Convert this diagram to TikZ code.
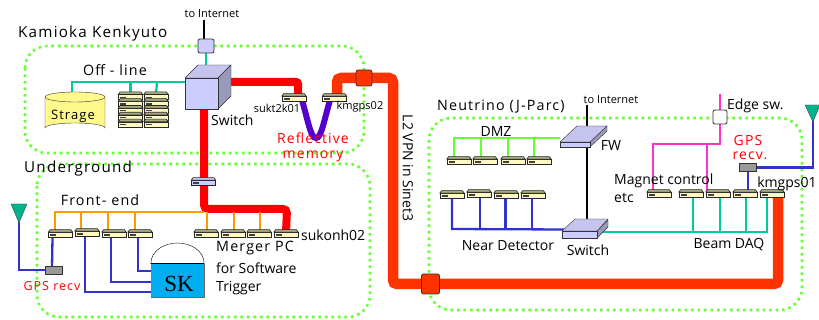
\documentclass[tikz,border=0pt]{standalone}
\usepackage{fontspec}
\setmainfont{Open Sans}
\newfontfamily\spaced[LetterSpace=8]{Open Sans}
\usetikzlibrary{backgrounds}

\definecolor{dotgreen}{HTML}{66FF33}
\definecolor{teal}{HTML}{00CC99}
\definecolor{antenna}{HTML}{00B38C}
\definecolor{lineblue}{HTML}{3333CC}
\definecolor{lineorange}{HTML}{FF9900}
\definecolor{linepink}{HTML}{FF33CC}
\definecolor{vpn}{HTML}{FF3300}
\definecolor{refmem}{HTML}{5500CC}
\definecolor{lav}{HTML}{CCCCFF}
\definecolor{lavtop}{HTML}{C4C4EE}
\definecolor{lavside}{HTML}{9999BB}
\definecolor{pcface}{HTML}{FFF8C0}
\definecolor{pctop}{HTML}{A8A880}

% One flat box: name, position, face colour, top colour
\newcommand{\flatbox}[4]{
  \node [draw=black!85,line width=0.6pt,fill=#3,minimum width=24pt,minimum height=5pt,inner sep=0pt] (#1) at (#2) {};
  \draw [draw=black!85,line width=0.6pt,fill=#4] (#1.north west) -- ([shift={(2pt,2.6pt)}]#1.north west) -- ([shift={(-2pt,2.6pt)}]#1.north east) -- (#1.north east) -- cycle;
  \draw [line width=1.2pt,black!75] ([xshift=2pt]#1.west) -- ([xshift=8pt]#1.west);
}
\newcommand{\pc}[2]{\flatbox{#1}{#2}{pcface}{pctop}}

\begin{document}
\begin{tikzpicture}[x=1pt,y=-1pt]

\tikzstyle{area}=[draw=dotgreen,line width=2.6pt,dash pattern=on 2.6pt off 3.9pt,rounded corners=22pt]
\tikzstyle{thin}=[line width=2.3pt,line join=miter]
\tikzstyle{gps}=[draw=black!80,line width=0.6pt,fill=black!40,minimum width=17pt,minimum height=8pt,inner sep=0pt]
\tikzstyle{corner}=[draw=black!80,line width=0.8pt,rounded corners=2pt,inner sep=0pt]
\tikzstyle{tag}=[inner sep=0pt,font=\fontsize{14}{14}\selectfont]
\tikzstyle{small}=[inner sep=0pt,font=\fontsize{11}{11}\selectfont]
\tikzstyle{title}=[inner sep=0pt,font=\spaced\fontsize{14.3}{14.3}\selectfont]
\tikzstyle{bigtitle}=[inner sep=0pt,font=\spaced\fontsize{15.2}{15.2}\selectfont]
\tikzstyle{redtag}=[inner sep=0pt,text=red,font=\spaced\fontsize{14}{14}\selectfont]

\useasboundingbox (0,0) rectangle (819,320);

% Kamioka side
\node [corner,fill=lav,minimum width=16pt,minimum height=14pt] (edgek) at (206,46) {};
\coordinate (netk) at (204,20);
\draw [fill=lavtop,draw=black!80] (185,78) -- (198,65) -- (231,65) -- (218,78) -- cycle;
\draw [fill=lavside,draw=black!80] (218,78) -- (231,65) -- (231,96) -- (218,109) -- cycle;
\node [draw=black!80,fill=lav,minimum width=33pt,minimum height=31pt,inner sep=0pt] (swk) at (201.5,93.5) {};

% Storage cylinder
\draw [draw=black!80,fill=yellow!45] (45,97) -- (45,128) arc (180:360:30 and 5) -- (105,97);
\draw [draw=black!80,fill=yellow!45] (75,97) ellipse (30 and 5);
\node [inner sep=0pt,font=\spaced\fontsize{13}{13}\selectfont] (strage) at (73,116) {Strage};

% Offline server stacks
\foreach \i in {1,...,5} {
  \pc{rka\i}{130.5,{90.5+6.8*\i}}
  \pc{rkb\i}{156,{90.5+6.8*\i}}
}

% Underground boxes
\flatbox{swu}{203.5,183}{lav}{lavtop}
\foreach \i/\x/\y in {1/60.5/235,2/87/234,3/114/235,4/140/235} {\pc{fe\i}{\x,\y}}
\foreach \i/\x in {1/206,2/233,3/259,4/286} {\pc{mg\i}{\x,235}}
\node [gps] (gpsu) at (53.5,270) {};
\node [fill=cyan,minimum width=53pt,minimum height=33pt,inner sep=0pt] (sk) at (177.5,280.5) {};
\node [inner sep=0pt,font=\fontspec{Liberation Serif}\fontsize{23}{23}\selectfont] (sklabel) at (179,284) {SK};
\draw [line width=1.3pt] (sk.north west) -- (sk.north east);
\draw (sk.north west) .. controls (151,250) and (165,243) .. (177.5,243) .. controls (190,243) and (204,250) .. (sk.north east);
\draw [black!60] (sk.north east) -- (sk.south east) -- (sk.south west);
\coordinate (antu) at (19,221);
\draw [fill=antenna,draw=black!70] (11,204) -- (27,204) -- (19,223) -- cycle;

% Reflective memory hosts
\pc{sukt}{294,99}
\pc{kmb}{334.5,99}

% Junctions on the VPN
\node [corner,fill=vpn,minimum width=16pt,minimum height=16pt] (juna) at (364,78) {};
\node [corner,fill=vpn,minimum width=18pt,minimum height=20pt] (junb) at (430.5,284) {};

% Neutrino side
\draw [fill=lavside,draw=black!80] (590,142) -- (607,126) -- (607,131) -- (590,147) -- cycle;
\draw [fill=lavtop,draw=black!80] (560,142) -- (577,126) -- (607,126) -- (590,142) -- cycle;
\node [draw=black!80,fill=lav,minimum width=30pt,minimum height=5.5pt,inner sep=0pt] (fw) at (575,144.5) {};
\draw [fill=lavside,draw=black!80] (597,231) -- (608,220) -- (608,227) -- (597,238) -- cycle;
\draw [fill=lavtop,draw=black!80] (562,231) -- (575,219) -- (608,219) -- (597,231) -- cycle;
\node [draw=black!80,fill=lav,minimum width=35pt,minimum height=7pt,inner sep=0pt] (swn) at (579.5,234.5) {};
\foreach \i/\x in {1/459,2/485,3/513,4/539} {\pc{dz\i}{\x,162}}
\foreach \i/\x/\y in {1/452/196,2/479/195,3/506/196,4/533/196} {\pc{nd\i}{\x,\y}}
\foreach \i/\x in {1/659,2/691,3/718,4/745,5/772} {\pc{bm\i}{\x,195}}
\node [corner,fill=white,minimum width=14pt,minimum height=14pt] (edgen) at (720,117) {};
\node [gps] (gpsn) at (748,167.5) {};
\draw [fill=antenna,draw=black!70] (805,105) -- (820,105) -- (813,122) -- cycle;
\coordinate (antn) at (813,118);
\coordinate (netn) at (587,105);
\coordinate (pinktop) at (720,94);

\begin{scope}[on background layer]
  % The three dotted areas
  \draw [area] (25,46) rectangle (364,153);
  \draw [area] (37,164) rectangle (370,317);
  \draw [area] (429,118) rectangle (802,310);

  % Kamioka wiring
  \draw [thin,black] (netk) -- (netk |- edgek.north);
  \draw [thin,teal] (edgek.south) -- ++(0,12);
  \coordinate (offbus) at (72,82);
  \draw [thin,teal] (72,97) |- (swk.west |- offbus);
  \draw [thin,teal] (130.5,82) -- (rka1.north);
  \draw [thin,teal] (157,82) -- (rkb1.north);

  % Red backbone
  \draw [red,line width=8pt,rounded corners=2pt] (222,82) -- (298,82) -- ([xshift=4pt]sukt.north);
  \draw [red,line width=8pt,rounded corners=4pt] (swk.south) ++(2.5,0) -- (204,209) -- (287,209) -- (mg4.north);

  % Orange front-end bus
  \draw [thin,lineorange] (204,212) -- (55,212) -- ([xshift=-5.5pt]fe1.north);
  \foreach \i/\x in {2/81,3/108,4/135} {\draw [thin,lineorange] (\x,212) -- (\x,234);}
  \foreach \i/\x in {1/207,2/234,3/260} {\draw [thin,lineorange] (\x,212) -- (\x,233);}

  % Blue lines around SK
  \draw [thin,lineblue] ([xshift=-8pt]fe1.south) -- (52,268);
  \draw [thin,lineblue] (antu) |- (gpsu.west);
  \draw [thin,lineblue] ([xshift=-2pt]fe2.south) |- (151,292);
  \draw [thin,lineblue] ([xshift=-3pt]fe3.south) |- (151,282);
  \draw [thin,lineblue] ([xshift=-2pt]fe4.south) |- (151,271);

  % Reflective memory loop
  \draw [refmem,line width=6pt] (302,100) .. controls (309,125) and (311,138) .. (316,138) .. controls (321,138) and (323,125) .. (330,100);

  % VPN
  \draw [vpn,line width=10.5pt,rounded corners=4pt] (kmb.north) ++(2.5,0) -- (337,78) -- (393,78) -- (393,284) -- (778,284) -- (778,197);

  % Neutrino wiring
  \draw [thin,black] (netn) -- (netn |- swn.north);
  \draw [thin,dotgreen] (560,138) -- (454,138) -- (454,159);
  \foreach \x in {481,508,534} {\draw [thin,dotgreen] (\x,138) -- (\x,159);}
  \draw [thin,lineblue] (swn.west) ++(4,-5) -- (452,229) -- (452,197);
  \foreach \x in {480,505.5,532} {\draw [thin,lineblue] (\x,229) -- (\x,197);}
  \draw [thin,teal] (swn.east) ++(0,-2.5) -- (767,232) -- (767,197);
  \foreach \x in {693,720,746} {\draw [thin,teal] (\x,232) -- (\x,197);}
  \draw [thin,linepink] (pinktop) -- (720,144) -- (653,144) -- (653,192);
  \draw [thin,linepink] (707,144) -- (707,192);
  \draw [thin,lineblue] (gpsn.south) -- (748,192);
  \draw [thin,lineblue] (gpsn.east) -| (antn);
\end{scope}

% Labels
\node [small] (inta) at (212,14) {to Internet};
\node [bigtitle,anchor=west] (kamioka) at (18,34) {Kamioka Kenkyuto};
\node [title] (offline) at (115,70) {Off - line};
\node [tag,anchor=west] (swka) at (211,120) {Switch};
\node [small] (suktlab) at (277,108) {sukt2k01};
\node [small] (kmblab) at (360,107) {kmgps02};
\node [redtag] (rma) at (313,138) {Reflective};
\node [redtag] (rmb) at (313,156) {memory};
\node [bigtitle,anchor=west] (under) at (24,169) {Underground};
\node [title] (frontend) at (100,200) {Front- end};
\node [title,anchor=west] (mrga) at (216,248) {Merger PC};
\node [tag,anchor=west] (mrgb) at (216,268) {for Software};
\node [tag,anchor=west] (mrgc) at (216,288) {Trigger};
\node [tag,anchor=west] (sukon) at (301,235) {sukonh02};
\node [inner sep=0pt,text=red,font=\spaced\fontsize{12.5}{12.5}\selectfont] (gpsa) at (52,286) {GPS recv};
\node [tag,rotate=-90] (l2vpn) at (408,168) {L2 VPN in Sinet3};
\node [title,anchor=west] (neutrino) at (437,107) {Neutrino (J-Parc)};
\node [small] (intb) at (611,100) {to Internet};
\node [tag] (dmz) at (496,132) {DMZ};
\node [tag] (fwl) at (611,146) {FW};
\node [tag] (ndl) at (508,246) {Near Detector};
\node [tag] (swnl) at (588,250) {Switch};
\node [tag,anchor=west] (mga) at (614,181) {Magnet control};
\node [tag,anchor=west] (mgb) at (614,198) {etc};
\node [tag] (beam) at (729,245) {Beam DAQ};
\node [tag,anchor=west] (edgel) at (727,106) {Edge sw.};
\node [redtag] (gpsb) at (748,140.5) {GPS};
\node [redtag] (gpsc) at (750,156) {recv.};
\node [tag] (kmal) at (787,184) {kmgps01};

\end{tikzpicture}
\end{document}
